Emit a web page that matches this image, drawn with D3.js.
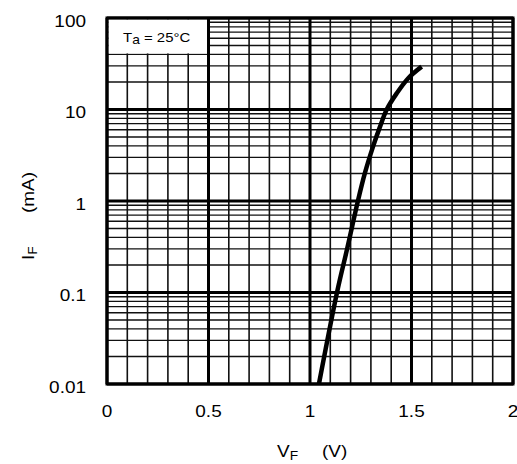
<!DOCTYPE html>
<html><head><meta charset="utf-8">
<script src="https://cdn.jsdelivr.net/npm/d3@7"></script>
<style>body{margin:0;background:#fff}svg{display:block}text{font-family:"Liberation Sans",Arial,sans-serif;fill:#000}</style>
</head><body>
<svg id="c" width="517" height="464"></svg>
<script>
const vf = [1.044, 1.133, 1.183, 1.236, 1.27, 1.31, 1.345, 1.378, 1.427, 1.484, 1.55];
const ifw = [0.01, 0.1, 0.3, 1, 2, 3.9, 6.5, 10, 15, 22, 29.4];
const xTicks = [0, 0.5, 1, 1.5, 2];
const xTickLabels = ["0", "0.5", "1", "1.5", "2"];
const yTicks = [0.01, 0.1, 1, 10, 100];
const yTickLabels = ["0.01", "0.1", "1", "10", "100"];

const svg = d3.select("#c");
const L = 107, R = 513, T = 18, B = 384;
const x = d3.scaleLinear().domain([0, 2]).range([L, R]);
const y = d3.scaleLog().domain([0.01, 100]).range([B, T]);

const g = svg.append("g");
// minor verticals
const minorX = d3.range(1, 20).map(i => i / 10).filter(v => Math.abs(v * 2 - Math.round(v * 2)) > 1e-6);
g.selectAll(".mx").data(minorX).join("line")
  .attr("x1", d => x(d)).attr("x2", d => x(d)).attr("y1", T).attr("y2", B)
  .attr("stroke", "#111").attr("stroke-width", 1.6);
// minor horizontals
const minorY = [];
[0.01, 0.1, 1, 10].forEach(d => { for (let k = 2; k <= 9; k++) minorY.push(d * k); });
g.selectAll(".my").data(minorY).join("line")
  .attr("x1", L).attr("x2", R).attr("y1", d => y(d)).attr("y2", d => y(d))
  .attr("stroke", "#111").attr("stroke-width", 1.4);
// major
g.selectAll(".Mx").data(xTicks).join("line")
  .attr("x1", d => x(d)).attr("x2", d => x(d)).attr("y1", T).attr("y2", B)
  .attr("stroke", "#000").attr("stroke-width", 3);
g.selectAll(".My").data(yTicks).join("line")
  .attr("x1", L).attr("x2", R).attr("y1", d => y(d)).attr("y2", d => y(d))
  .attr("stroke", "#000").attr("stroke-width", 3);

// note box
g.append("rect").attr("x", x(0) + 1.5).attr("y", y(100) + 1.5)
  .attr("width", x(0.5) - x(0) - 3).attr("height", y(40) - y(100) - 2.5).attr("fill", "#fff");
const nt = g.append("text").attr("transform", "translate(123,42) scale(1.15,1)").attr("font-size", 13);
nt.append("tspan").text("T");
nt.append("tspan").attr("font-size", 12).attr("dy", 2).text("a");
nt.append("tspan").attr("dy", -2).text(" = 25°C");

// border
g.append("rect").attr("x", L).attr("y", T).attr("width", R - L).attr("height", B - T)
  .attr("fill", "none").attr("stroke", "#000").attr("stroke-width", 3);

// curve
const line = d3.line().x(d => x(d[0])).y(d => y(d[1])).curve(d3.curveCatmullRom.alpha(0.5));
g.append("path").datum(vf.map((v, i) => [v, ifw[i]]))
  .attr("d", line).attr("fill", "none").attr("stroke", "#000").attr("stroke-width", 4.5)
  .attr("stroke-linecap", "butt");

// tick labels
const sx = 1.15;
svg.selectAll(".xl").data(xTicks).join("text")
  .attr("transform", d => `translate(${x(d)},417) scale(${sx},1)`)
  .attr("text-anchor", "middle").attr("font-size", 16.5)
  .text((d, i) => xTickLabels[i]);
svg.selectAll(".yl").data(yTicks).join("text")
  .attr("transform", d => `translate(86,${y(d) + 8.5}) scale(${sx},1)`)
  .attr("text-anchor", "end").attr("font-size", 16.5)
  .text((d, i) => yTickLabels[i]);

// axis titles
const xt = svg.append("text").attr("transform", "translate(277,457) scale(1.15,1)").attr("font-size", 16.5);
xt.append("tspan").text("V");
xt.append("tspan").attr("font-size", 12).attr("dy", 3).text("F");
svg.append("text").attr("transform", "translate(322,457) scale(1.15,1)").attr("font-size", 16.5).text("(V)");
const yt = svg.append("text").attr("transform", "translate(34,260) rotate(-90) scale(1.15,1)").attr("font-size", 16.5);
yt.append("tspan").text("I");
yt.append("tspan").attr("font-size", 12).attr("dy", 3).text("F");
svg.append("text").attr("transform", "translate(34,213) rotate(-90) scale(1.15,1)").attr("font-size", 16.5).text("(mA)");
</script>
</body></html>
